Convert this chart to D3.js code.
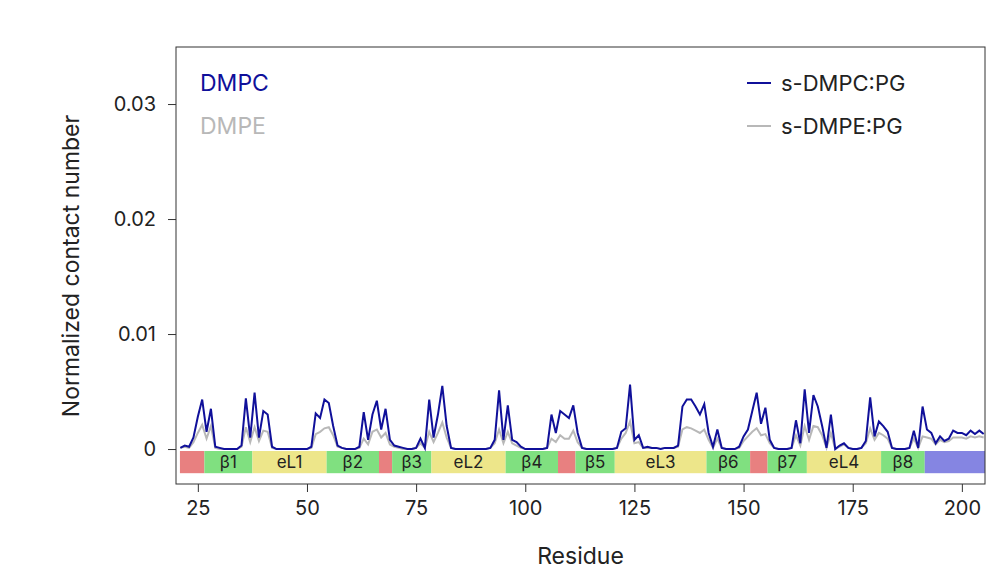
<!DOCTYPE html>
<html><head><meta charset="utf-8">
<script src="https://cdn.jsdelivr.net/npm/d3@7"></script>
<style>body{margin:0;background:#fff}svg{font-family:Inter,"Noto Sans",sans-serif}</style>
</head><body><svg id="c" width="1008" height="577"></svg>
<script>
const startResidue = 21;
const dmpc = [0.1,0.3,0.2,1.0,2.8,4.3,1.5,3.5,0.2,0.1, 0,0,0,0,0.3,4.4,1.0,4.9,1.0,3.3, 3.0,0.2,0,0,0,0,0,0,0,0, 0.2,3.1,2.7,4.3,4.0,2.0,0.3,0.1,0,0, 0,0.2,3.2,0.8,3.0,4.2,1.7,3.5,0.8,0.3, 0.2,0.1,0,0,0.1,0.9,0.1,4.3,1.0,3.0, 5.5,2.0,0.1,0,0,0,0,0,0,0, 0,0.1,0.8,5.1,0.8,3.8,0.8,0.6,0.2,0, 0,0,0,0,0.1,3.0,1.4,3.3,3.0,2.7, 3.8,1.4,0.1,0,0,0,0,0,0,0, 0.1,1.5,1.8,5.6,0.8,1.2,0.1,0.2,0.1,0.1, 0,0.1,0.1,0.1,0.3,3.7,4.3,4.3,3.7,3.0, 3.9,1.4,0.2,1.7,0.1,0,0,0,0.2,1.1, 1.7,3.3,4.9,2.2,3.6,0.8,0.1,0,0,0, 0.1,2.5,0.5,5.2,1.4,4.7,3.7,2.0,0.1,3.0, 0,0.3,0.5,0.1,0,0,0.1,0.7,4.5,1.1, 2.4,2.0,1.5,0.1,0,0,0,0.1,1.6,0.1, 3.7,1.7,1.4,0.5,1.1,0.7,0.9,1.6,1.4,1.4, 1.2,1.6,1.3,1.6,1.3];
const dmpe = [0.1,0.2,0.1,0.6,1.4,2.1,0.9,2.0,0.1,0, 0,0,0,0,0.2,1.9,0.6,1.9,0.7,1.6, 1.5,0.1,0,0,0,0,0,0,0,0, 0.1,1.3,1.5,1.8,1.9,1.2,0.2,0.1,0,0, 0,0.1,0.9,0.4,1.5,1.7,1.0,1.4,0.4,0.2, 0.1,0,0,0,0.1,0.5,0.1,1.5,0.6,1.4, 2.3,1.0,0.1,0,0,0,0,0,0,0, 0,0.1,0.5,1.7,0.5,1.5,0.5,0.3,0.1,0, 0,0,0,0,0.1,0.9,0.6,1.2,0.9,0.9, 1.6,0.6,0.1,0,0,0,0,0,0,0, 0.1,0.9,1.4,2.4,0.5,0.6,0.1,0.1,0.1,0.1, 0,0.1,0.1,0.1,0.2,1.7,1.9,1.8,1.6,1.4, 1.7,0.8,0.1,0.9,0.1,0,0,0,0.1,0.7, 1.1,1.5,1.8,1.2,1.3,0.5,0.1,0,0,0, 0.1,1.2,0.3,2.0,0.8,2.0,1.9,1.2,0.1,1.4, 0,0.2,0.4,0.1,0,0,0.1,0.5,1.8,0.8, 1.4,1.2,0.9,0.1,0,0,0,0.1,0.9,0.1, 1.1,1.0,0.9,0.4,0.8,0.6,0.7,1.0,1.0,1.0, 0.9,1.1,1.0,1.1,1.0];
const segNames = ["","β1","eL1","β2","","β3","eL2","β4","","β5","eL3","β6","","β7","eL4","β8",""];
const segStart = [20.9,26.5,37.5,54.5,66.5,69.5,78.5,95.5,107.5,111.5,120.5,141.5,151.5,155.5,164.5,181.5,191.5];
const segEnd   = [26.5,37.5,54.5,66.5,69.5,78.5,95.5,107.5,111.5,120.5,141.5,151.5,155.5,164.5,181.5,191.5,205.3];
const segType  = ["r","g","y","g","r","g","y","g","r","g","y","g","r","g","y","g","b"];
const xTicks = [25,50,75,100,125,150,175,200];
const yTicks = [0,0.01,0.02,0.03];
const segColor = {r:"#e88080", g:"#80e080", y:"#ede68a", b:"#8585e2"};

const svg = d3.select("#c");
const L=176,R=985,T=47,B=484;
const x = d3.scaleLinear().domain([20,205.3]).range([L,R]);
const y = d3.scaleLinear().domain([-0.00304,0.03496]).range([B,T]);
const toPts = arr => arr.map((v,i)=>[startResidue+i, v/1000]);

const segs = segNames.map((n,i)=>({n,s:segStart[i],e:segEnd[i],t:segType[i]}));
svg.selectAll("rect.seg").data(segs).join("rect")
  .attr("x",d=>x(d.s)).attr("width",d=>x(d.e)-x(d.s))
  .attr("y",y(-0.00017)).attr("height",y(-0.0021)-y(-0.00017))
  .attr("fill",d=>segColor[d.t]);
svg.selectAll("text.seg").data(segs.filter(d=>d.n)).join("text")
  .attr("x",d=>x((d.s+d.e)/2)).attr("y",y(-0.00115)).attr("dy","0.36em")
  .attr("text-anchor","middle").attr("font-size",17).attr("fill","#222").text(d=>d.n);

const line = d3.line().x(d=>x(d[0])).y(d=>y(d[1]));
svg.append("path").attr("d",line(toPts(dmpe))).attr("fill","none").attr("stroke","#b8b8b8").attr("stroke-width",2);
svg.append("path").attr("d",line(toPts(dmpc))).attr("fill","none").attr("stroke","#10109a").attr("stroke-width",2);

svg.append("rect").attr("x",L).attr("y",T).attr("width",R-L).attr("height",B-T).attr("fill","none").attr("stroke","#333").attr("stroke-width",1);

const xa = svg.append("g").attr("transform",`translate(0,${B})`).call(d3.axisBottom(x).tickValues(xTicks).tickSize(8).tickPadding(9).tickFormat(d3.format("d")));
const ya = svg.append("g").attr("transform",`translate(${L},0)`).call(d3.axisLeft(y).tickValues(yTicks).tickSize(8).tickPadding(12).tickFormat(d=>d===0?"0":d3.format(".2f")(d)));
[xa,ya].forEach(a=>{a.select(".domain").remove();a.selectAll("text").attr("font-size",20).attr("fill","#222").attr("font-family","Inter");a.selectAll("line").attr("stroke","#333");});

svg.append("text").attr("x",(L+R)/2).attr("y",564).attr("text-anchor","middle").attr("font-size",23).attr("fill","#222").text("Residue");
svg.append("text").attr("transform","translate(79,266) rotate(-90)").attr("text-anchor","middle").attr("font-size",23).attr("fill","#222").text("Normalized contact number");

svg.append("text").attr("x",200).attr("y",91).attr("font-size",23).attr("fill","#10109a").text("DMPC");
svg.append("text").attr("x",200).attr("y",134).attr("font-size",23).attr("fill","#b8b8b8").text("DMPE");
[["s-DMPC:PG","#10109a",83],["s-DMPE:PG","#b8b8b8",126]].forEach(([t,c,yy])=>{
  svg.append("line").attr("x1",747).attr("x2",771).attr("y1",yy).attr("y2",yy).attr("stroke",c).attr("stroke-width",2);
  svg.append("text").attr("x",781).attr("y",yy+8).attr("font-size",22).attr("fill","#222").text(t);
});
</script></body></html>
